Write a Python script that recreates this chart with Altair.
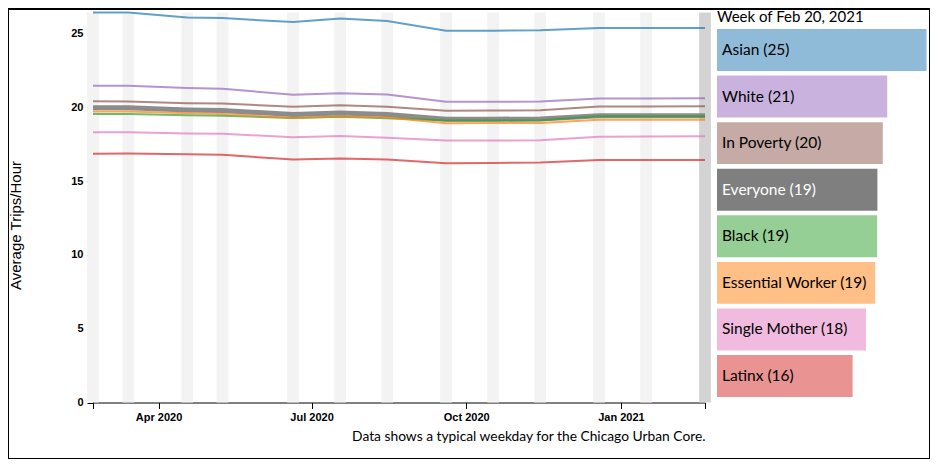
import altair as alt
import pandas as pd

# ---------------- data ----------------
weeks = ["2020-02-22", "2020-03-14", "2020-04-18", "2020-05-09", "2020-06-20",
         "2020-07-18", "2020-08-15", "2020-09-19", "2020-10-17", "2020-11-14",
         "2020-12-19", "2021-01-16", "2021-02-20"]

groups = ["Asian", "White", "In Poverty", "Everyone", "Black",
          "Essential Worker", "Single Mother", "Latinx"]
colors = ["#1f77b4", "#9467bd", "#8c564b", "#7f7f7f", "#2ca02c",
          "#ff7f0e", "#e377c2", "#d62728"]

asian = [26.42, 26.42, 26.08, 26.04, 25.77, 26.02, 25.84, 25.19, 25.19, 25.21, 25.37, 25.37, 25.37]
white = [21.46, 21.46, 21.31, 21.26, 20.84, 20.95, 20.86, 20.37, 20.37, 20.39, 20.59, 20.59, 20.61]
in_poverty = [20.41, 20.39, 20.27, 20.25, 20.03, 20.14, 20.03, 19.76, 19.78, 19.80, 20.05, 20.05, 20.07]
everyone = [19.96, 19.96, 19.82, 19.78, 19.51, 19.62, 19.51, 19.19, 19.19, 19.21, 19.42, 19.42, 19.42]
black = [19.55, 19.55, 19.46, 19.42, 19.28, 19.35, 19.26, 19.10, 19.10, 19.12, 19.40, 19.40, 19.39]
essential = [19.71, 19.71, 19.60, 19.55, 19.28, 19.37, 19.30, 18.92, 18.94, 18.94, 19.15, 19.15, 19.15]
single_mother = [18.31, 18.31, 18.22, 18.20, 17.97, 18.06, 17.93, 17.75, 17.75, 17.77, 18.00, 18.02, 18.04]
latinx = [16.85, 16.87, 16.82, 16.78, 16.46, 16.53, 16.46, 16.21, 16.23, 16.26, 16.42, 16.42, 16.42]

series = {
    "Asian": asian, "White": white, "In Poverty": in_poverty, "Everyone": everyone,
    "Black": black, "Essential Worker": essential, "Single Mother": single_mother,
    "Latinx": latinx,
}

selected_week = "2021-02-20"
title_text = "Week of Feb 20, 2021"
y_title = "Average Trips/Hour"
note = "Data shows a typical weekday for the Chicago Urban Core."

# ---------------- tables ----------------
line_rows = []
for g in groups:
    for d, v in zip(weeks, series[g]):
        line_rows.append({"group": g, "date": d + "T00:00:00", "value": v})
lines_df = pd.DataFrame(line_rows)

band_rows = []
for d in weeks:
    t = pd.Timestamp(d)
    band_rows.append({
        "start": (t - pd.Timedelta(hours=84)).strftime("%Y-%m-%dT%H:%M:%S"),
        "end": (t + pd.Timedelta(hours=84)).strftime("%Y-%m-%dT%H:%M:%S"),
        "selected": d == selected_week,
    })
band_df = pd.DataFrame(band_rows)

idx = weeks.index(selected_week)
bar_rows = [{"group": g, "value": series[g][idx],
             "label": f"{g} ({round(series[g][idx])})"} for g in groups]
bar_df = pd.DataFrame(bar_rows)

ymax = max(max(v) for v in series.values())

# ---------------- scales & axes ----------------
x_time = alt.Scale(
    domain=[alt.DateTime(year=2020, month=2, date=22), alt.DateTime(year=2021, month=2, date=20)],
    range=[85, 697],
)
y_lin = alt.Scale(domain=[0, ymax], range=[393.5, 3.5], nice=False, zero=True)
color_scale = alt.Scale(domain=groups, range=colors)

x_axis = alt.Axis(
    values=[alt.DateTime(year=2020, month=2, date=22), alt.DateTime(year=2020, month=4, date=1),
            alt.DateTime(year=2020, month=7, date=1), alt.DateTime(year=2020, month=10, date=1),
            alt.DateTime(year=2021, month=1, date=1), alt.DateTime(year=2021, month=2, date=20)],
    labelExpr="(datum.value < datetime(2020, 2, 15) || datum.value > datetime(2021, 1, 1)) ? '' : timeFormat(datum.value, '%b %Y')",
    grid=False, offset=-56.5, tickSize=6, labelPadding=3,
    labelFont="Liberation Sans", labelFontSize=11, labelFontWeight="bold", labelColor="black",
    labelFlush=False, labelOverlap=False,
    domainColor="black", tickColor="black",
    titleFont="Lato", titleFontSize=13.8, titleFontWeight="normal", titleColor="black",
    titleX=697, titleY=38, titleAlign="right", titleBaseline="alphabetic",
)
y_axis = alt.Axis(
    values=[0, 5, 10, 15, 20, 25, ymax],
    labelExpr="datum.value > 25.5 ? '' : datum.label",
    labelFontSize=alt.condition("datum.value > 25.5", alt.value(0), alt.value(11)),
    grid=False, offset=-85, tickSize=6, labelPadding=4,
    labelFont="Liberation Sans", labelFontWeight="bold", labelColor="black",
    labelOverlap=False,
    domainColor="black", tickColor="black",
    titleFont="Liberation Sans", titleFontSize=15, titleFontWeight="normal", titleColor="black",
    titleX=-73, titleY=216, titleAngle=270, titleAlign="center", titleBaseline="alphabetic",
)

# ---------------- left: weeks + lines ----------------
bands = alt.Chart(band_df).mark_rect().encode(
    x=alt.X("start:T", scale=x_time, axis=x_axis, title=note),
    x2="end:T",
    y=alt.Y(datum=0, type="quantitative", scale=y_lin, axis=y_axis, title=y_title),
    y2=alt.datum(ymax),
    color=alt.condition(alt.datum.selected, alt.value("#d3d3d3"), alt.value("#f3f3f3")),
)

line_base = alt.Chart(lines_df).encode(
    x=alt.X("date:T", scale=x_time, axis=x_axis, title=note),
    y=alt.Y("value:Q", scale=y_lin, axis=y_axis, title=y_title),
    color=alt.Color("group:N", scale=color_scale, legend=None),
)
everyone_line = line_base.transform_filter(alt.datum.group == "Everyone").mark_line(
    strokeWidth=5, opacity=0.9)
other_lines = line_base.transform_filter(alt.datum.group != "Everyone").mark_line(
    strokeWidth=2, opacity=0.7)

left = alt.layer(bands, everyone_line, other_lines)

# ---------------- right: bars ----------------
bar_x = alt.Scale(domain=[0, 25], range=[709, 915.5])
bar_y = alt.Scale(domain=groups, range=[20, 388], paddingInner=0.1, paddingOuter=0)

bars = alt.Chart(bar_df).mark_bar().encode(
    x=alt.X("value:Q", scale=bar_x, axis=None),
    y=alt.Y("group:N", scale=bar_y, axis=None),
    color=alt.Color("group:N", scale=color_scale, legend=None),
    opacity=alt.condition(alt.datum.group == "Everyone", alt.value(1.0), alt.value(0.5)),
)
labels = alt.Chart(bar_df).mark_text(
    align="left", baseline="middle", dx=5, font="Lato", fontSize=15.5
).encode(
    x=alt.X(datum=0, type="quantitative", scale=bar_x, axis=None),
    y=alt.Y("group:N", scale=bar_y, axis=None),
    text="label:N",
    color=alt.condition(alt.datum.group == "Everyone", alt.value("white"), alt.value("black")),
)

right = alt.layer(bars, labels)

chart = alt.layer(left, right).resolve_scale(
    x="independent", y="independent"
).properties(
    width=922, height=450, padding=0, background="white",
    title=alt.TitleParams(title_text, anchor="start", frame="group", dx=709, offset=-16,
                          font="Lato", fontSize=15, fontWeight="normal", color="black"),
).configure_view(stroke="black", strokeWidth=2)

chart.save("out.html", embed_options={"renderer": "svg", "actions": False})
